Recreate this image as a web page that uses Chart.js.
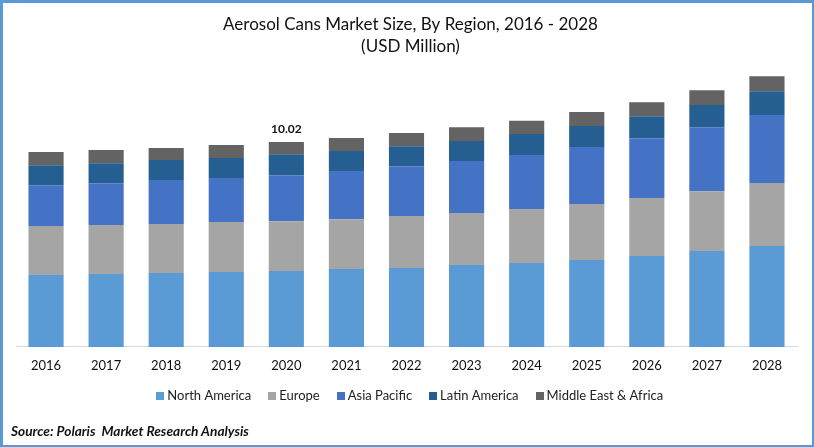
<!DOCTYPE html>
<html><head><meta charset="utf-8">
<script src="https://cdn.jsdelivr.net/npm/chart.js@4"></script>
<style>
html,body{margin:0;padding:0;background:#fff;overflow:hidden}
#wrap{position:relative;width:814px;height:447px;overflow:hidden}
#frame{position:absolute;left:0;top:0;width:814px;height:447px;box-sizing:border-box;border:solid #5B9BD5;border-width:3px 2px 2px 3px;pointer-events:none}
#source{position:absolute;left:11px;top:422px;font:italic bold 13.7px Lato,sans-serif;color:#111;white-space:pre}
canvas{position:absolute;left:0;top:0}
</style></head><body>
<div id="wrap"><canvas id="c" width="814" height="447"></canvas><div id="frame"></div>
<div id="source">Source: Polaris  Market Research Analysis</div></div>
<script>
const categories=["2016","2017","2018","2019","2020","2021","2022","2023","2024","2025","2026","2027","2028"];
const northAmerica=[3.52,3.57,3.62,3.67,3.71,3.81,3.86,4.01,4.11,4.25,4.45,4.69,4.94];
const europe=[2.39,2.39,2.39,2.44,2.44,2.44,2.54,2.54,2.64,2.74,2.83,2.93,3.08];
const asiaPacific=[2.00,2.05,2.15,2.15,2.25,2.35,2.44,2.54,2.64,2.79,2.93,3.13,3.32];
const latinAmerica=[0.98,0.98,0.98,0.98,1.03,0.98,0.98,0.98,1.03,1.03,1.08,1.08,1.17];
const middleEastAfrica=[0.64,0.64,0.59,0.64,0.59,0.64,0.64,0.68,0.64,0.68,0.68,0.73,0.73];
const annotatedCategory="2020";
const annotatedLabel="10.02";
const font="Lato, sans-serif";
const mk=(label,data,color)=>({label,data,backgroundColor:color,borderWidth:0,categoryPercentage:1,barPercentage:0.585,stack:"s"});
function swatch(color){const s=document.createElement("canvas");s.width=8;s.height=8;const x=s.getContext("2d");x.fillStyle=color;x.fillRect(0,0,8,8);return s;}
const tweaks={id:"tweaks",
 beforeDraw(ch){ if(!ch.titleBlock._moved){ch.titleBlock.left+=4;ch.titleBlock.right+=4;ch.legend.left+=5;ch.legend.right+=5;ch.legend.top-=16;ch.legend.bottom-=16;ch.titleBlock._moved=true;} },
 afterDatasetsDraw(ch){
  const i=categories.indexOf(annotatedCategory);
  const top=ch.getDatasetMeta(ch.data.datasets.length-1).data[i];
  const c=ch.ctx;c.save();c.font="bold 12px "+font;c.fillStyle="#111";c.textAlign="center";c.textBaseline="bottom";
  c.fillText(annotatedLabel,top.x,top.y-7);c.restore();
}};
new Chart(document.getElementById("c"),{type:"bar",
 data:{labels:categories,datasets:[
  mk("North America",northAmerica,"#5B9BD5"),
  mk("Europe",europe,"#A5A5A5"),
  mk("Asia Pacific",asiaPacific,"#4472C4"),
  mk("Latin America",latinAmerica,"#255E91"),
  mk("Middle East & Africa",middleEastAfrica,"#636363")]},
 plugins:[tweaks],
 options:{responsive:false,animation:false,devicePixelRatio:1,
  layout:{padding:{left:16,right:17,top:14,bottom:19}},
  plugins:{tooltip:{enabled:false},
   title:{display:true,text:["Aerosol Cans Market Size, By Region, 2016 - 2028","(USD Million)"],color:"#111",font:{family:font,size:17,weight:"normal",lineHeight:1.27},padding:{top:0,bottom:5}},
   legend:{position:"bottom",labels:{usePointStyle:true,pointStyleWidth:1,boxHeight:8,padding:20.5,color:"#222",font:{family:font,size:13},
     generateLabels(ch){return ch.data.datasets.map((d,i)=>({text:d.label,datasetIndex:i,fontColor:"#222",fillStyle:d.backgroundColor,strokeStyle:d.backgroundColor,lineWidth:0,pointStyle:swatch(d.backgroundColor)}));}}}},
  scales:{
   x:{stacked:true,grid:{display:false,drawTicks:false},border:{color:"#D9D9D9",width:1},ticks:{color:"#111",font:{family:font,size:13},padding:11,maxRotation:0}},
   y:{stacked:true,display:false,min:0,max:13.93}}}});
</script></body></html>
